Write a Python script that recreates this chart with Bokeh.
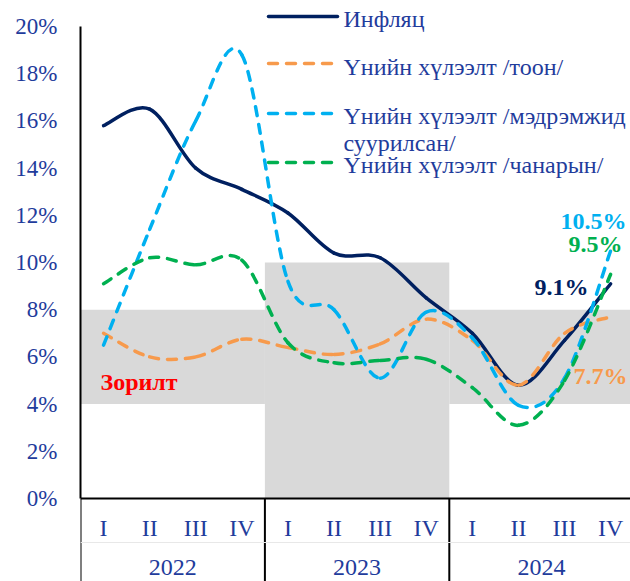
from bokeh.plotting import figure
from bokeh.models import Range1d, FixedTicker, PrintfTickFormatter, Span, ColumnDataSource
from bokeh.core.properties import value
from bokeh.embed import file_html
from bokeh.resources import INLINE

# ---------------- data ----------------
quarters = ["I", "II", "III", "IV"] * 3
years = ["2022", "2023", "2024"]
inflation = [15.8, 16.5, 14.0, 13.1, 12.1, 10.4, 10.2, 8.5, 7.0, 4.8, 6.7, 9.1]
exp_quant = [7.0, 6.0, 6.0, 6.75, 6.4, 6.1, 6.55, 7.6, 6.7, 4.8, 7.0, 7.7]
exp_sent = [6.5, 11.4, 16.0, 18.8, 9.2, 8.0, 5.1, 7.9, 6.8, 3.95, 5.1, 10.5]
exp_qual = [9.1, 10.2, 9.9, 10.1, 6.6, 5.75, 5.85, 5.9, 4.7, 3.1, 5.0, 9.5]
target_low = [4, 0, 4]
target_high = [8, 10, 8]
series_names = ["Инфляц", "Үнийн хүлээлт /тоон/",
                "Үнийн хүлээлт /мэдрэмжид", "Үнийн хүлээлт /чанарын/"]
y_ticks = list(range(0, 21, 2))

# ---------------- layout helpers (canvas pixels -> data) ----------------
X0, QW = 80.0, 46.1      # px of x=0, px per quarter
Y0, PP = 498.0, 23.6     # px of y=0, px per percent
def dx(px): return (px - X0) / QW
def dy(py): return (Y0 - py) / PP

W, H = 630, 581
FONT = value("Liberation Serif")
TXT_BLUE = "#1F3C9C"
NAVY, ORANGE, LBLUE, GREEN = "#002060", "#F79A4C", "#00B0F0", "#00B050"
GREY = "#D9D9D9"
FS = "24px"
DASH = "9 9"

p = figure(width=W, height=H, output_backend="svg", toolbar_location=None,
           x_range=Range1d(0, dx(W)), y_range=Range1d(dy(H), dy(0)),
           min_border_left=int(X0), min_border_right=0, min_border_top=0, min_border_bottom=0)
p.xaxis.visible = False
p.grid.visible = False
p.outline_line_color = None
p.background_fill_color = "white"

ax = p.yaxis[0]
ax.ticker = FixedTicker(ticks=y_ticks)
ax.formatter = PrintfTickFormatter(format="%d%%")
ax.bounds = (0, 20)
ax.major_tick_line_color = None
ax.minor_tick_line_color = None
ax.major_tick_out = 0
ax.major_label_standoff = 23
ax.axis_line_color = "black"
ax.axis_line_width = 2
ax.major_label_text_font = "Liberation Serif"
ax.major_label_text_font_size = "23px"
ax.major_label_text_color = TXT_BLUE

# target bands
n_per_year = 4
p.quad(left=[i * n_per_year for i in range(len(years))],
       right=[(i + 1) * n_per_year for i in range(len(years))],
       bottom=target_low, top=target_high,
       fill_color=GREY, line_color=None)

# x axis line, separators, faint line
p.add_layout(Span(location=0, dimension="width", line_color="black", line_width=2))
seps = [i * n_per_year for i in range(len(years))]
p.segment(x0=seps, y0=[0] * len(seps), x1=seps, y1=[dy(H + 10)] * len(seps),
          line_color="black", line_width=2)
p.segment(x0=[0], y0=[dy(542)], x1=[12], y1=[dy(542)], line_color="#E8E8E8", line_width=1)

# category labels
xs = [i + 0.5 for i in range(len(quarters))]
p.text(x=xs, y=[dy(527)] * len(xs), text=quarters, text_font=FONT,
       text_font_size=FS, text_color=TXT_BLUE, text_align="center",
       text_baseline="middle")
p.text(x=[i * n_per_year + n_per_year / 2 for i in range(len(years))],
       y=[dy(567)] * len(years), text=years, text_font=FONT,
       text_font_size=FS, text_color=TXT_BLUE, text_align="center",
       text_baseline="middle")


def smooth_src(xv, yv):
    n = len(xv)
    d = dict(x0=[], y0=[], x1=[], y1=[], cx0=[], cy0=[], cx1=[], cy1=[])
    for i in range(n - 1):
        a = max(i - 1, 0)
        b = min(i + 2, n - 1)
        d["x0"].append(xv[i]); d["y0"].append(yv[i])
        d["x1"].append(xv[i + 1]); d["y1"].append(yv[i + 1])
        d["cx0"].append(xv[i] + (xv[i + 1] - xv[a]) / 6.0)
        d["cy0"].append(yv[i] + (yv[i + 1] - yv[a]) / 6.0)
        d["cx1"].append(xv[i + 1] - (xv[b] - xv[i]) / 6.0)
        d["cy1"].append(yv[i + 1] - (yv[b] - yv[i]) / 6.0)
    return ColumnDataSource(d)


styles = [
    (inflation, NAVY, "solid"),
    (exp_quant, ORANGE, DASH),
    (exp_sent, LBLUE, DASH),
    (exp_qual, GREEN, DASH),
]
for vals, col, dash in styles:
    p.bezier(x0="x0", y0="y0", x1="x1", y1="y1", cx0="cx0", cy0="cy0",
             cx1="cx1", cy1="cy1", source=smooth_src(xs, vals),
             line_color=col, line_width=3.5, line_dash=dash, line_cap="round")

# legend (manual)
leg_line_y = [16, 63, 113, 162]
leg_text_y = [18, 66, 115, 164]
for (vals, col, dash), ly, ty, name in zip(styles, leg_line_y, leg_text_y, series_names):
    p.line(x=[dx(268), dx(337)], y=[dy(ly), dy(ly)], line_color=col,
           line_width=3.5, line_dash=dash, line_cap="round")
    p.text(x=[dx(343)], y=[dy(ty)], text=[name], text_font=FONT,
           text_font_size=FS, text_color=TXT_BLUE, text_align="left",
           text_baseline="middle")
p.text(x=[dx(343)], y=[dy(142)], text=["суурилсан/"], text_font=FONT,
       text_font_size=FS, text_color=TXT_BLUE, text_align="left",
       text_baseline="middle")

# target label
p.text(x=[dx(100)], y=[dy(381)], text=["Зорилт"], text_font=FONT,
       text_font_size=FS, text_font_style="bold", text_color="red",
       text_align="left", text_baseline="middle")

# end value labels
last = len(xs) - 1
p.text(x=[dx(626)], y=[dy(220)], text=[f"{exp_sent[last]:.1f}%"], text_font=FONT,
       text_font_size=FS, text_font_style="bold", text_color=LBLUE,
       text_align="right", text_baseline="middle")
p.text(x=[dx(622)], y=[dy(243)], text=[f"{exp_qual[last]:.1f}%"], text_font=FONT,
       text_font_size=FS, text_font_style="bold", text_color=GREEN,
       text_align="right", text_baseline="middle")
p.text(x=[dx(588)], y=[dy(286)], text=[f"{inflation[last]:.1f}%"], text_font=FONT,
       text_font_size=FS, text_font_style="bold", text_color=NAVY,
       text_align="right", text_baseline="middle")
p.text(x=[dx(627)], y=[dy(375)], text=[f"{exp_quant[last]:.1f}%"], text_font=FONT,
       text_font_size=FS, text_font_style="bold", text_color=ORANGE,
       text_align="right", text_baseline="middle")

open("out.html", "w").write(file_html(p, INLINE))
